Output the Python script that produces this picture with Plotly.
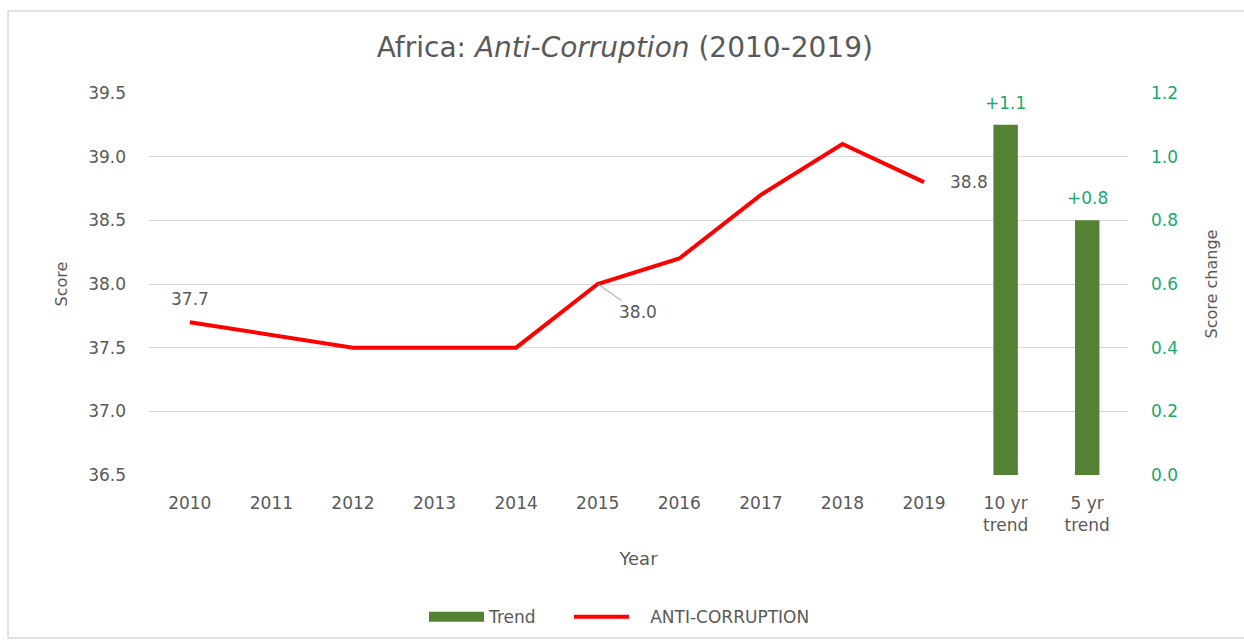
import plotly.graph_objects as go

# Anti-corruption scores for Africa, 2010-2019
years = ["2010", "2011", "2012", "2013", "2014", "2015", "2016", "2017", "2018", "2019"]
scores = [37.7, 37.6, 37.5, 37.5, 37.5, 38.0, 38.2, 38.7, 39.1, 38.8]

# Score change over the last 10 and 5 years
trend_labels = ["10 yr<br>trend", "5 yr<br>trend"]
trend_values = [1.1, 0.8]

# Points on the line that carry a value label
labelled_years = ["2010", "2015", "2019"]

categories = years + trend_labels
left_ticks = [36.5, 37.0, 37.5, 38.0, 38.5, 39.0, 39.5]
right_ticks = [0.0, 0.2, 0.4, 0.6, 0.8, 1.0, 1.2]

FONT = "DejaVu Sans, sans-serif"
GREY = "#595959"
GREEN_TEXT = "#22a86a"
BAR_GREEN = "#548235"
LINE_RED = "#ff0000"

fig = go.Figure()

fig.add_trace(go.Bar(
    x=trend_labels, y=trend_values, name="Trend", yaxis="y2",
    marker=dict(color=BAR_GREEN, line=dict(width=0)),
    showlegend=False,
))

# legend entry for the bars, drawn as a wide swatch
fig.add_trace(go.Scatter(
    x=[None], y=[None], name="Trend", mode="lines", yaxis="y2",
    line=dict(color=BAR_GREEN, width=10), legend="legend",
))

fig.add_trace(go.Scatter(
    x=years, y=scores, name="&nbsp;&nbsp;&nbsp;ANTI-CORRUPTION", mode="lines",
    line=dict(color=LINE_RED, width=4), legend="legend2",
))

# value labels above the trend bars
for lbl, val in zip(trend_labels, trend_values):
    fig.add_annotation(
        x=categories.index(lbl), y=val, xref="x", yref="y2",
        text=f"{val:+.1f}", showarrow=False, yanchor="bottom", yshift=10,
        font=dict(color=GREEN_TEXT, size=17, family=FONT),
    )

# value labels on the line
lookup = dict(zip(years, scores))
label_style = {
    "2010": dict(xshift=0, yshift=23, showarrow=False),
    "2015": dict(showarrow=True, ax=40, ay=28),
    "2019": dict(xshift=45, yshift=0, showarrow=False),
}
for yr in labelled_years:
    fig.add_annotation(
        x=categories.index(yr), y=lookup[yr], xref="x", yref="y",
        text=f"{lookup[yr]:.1f}",
        font=dict(color=GREY, size=17, family=FONT),
        arrowcolor="#8c9bb0", arrowwidth=1, arrowhead=0, standoff=0,
        **label_style[yr],
    )

# outer chart border
fig.add_shape(type="rect", xref="paper", yref="paper",
              x0=-0.144, x1=1.2, y0=-0.4267, y1=1.2147,
              line=dict(color="#d9d9d9", width=1.5), fillcolor="rgba(0,0,0,0)", layer="below")

legend_common = dict(orientation="h", xanchor="left", y=-0.372, yanchor="middle",
                     font=dict(size=17, color=GREY), itemwidth=55,
                     bgcolor="rgba(0,0,0,0)")

fig.update_layout(
    width=1244, height=641,
    margin=dict(l=149, r=116, t=93, b=166, autoexpand=False),
    paper_bgcolor="white", plot_bgcolor="white",
    font=dict(family=FONT, color=GREY, size=16),
    title=dict(text="Africa: <i>Anti-Corruption</i> (2010-2019)",
               x=0.486, xref="paper", xanchor="center",
               y=1 - 47 / 641, yref="container", yanchor="middle",
               font=dict(size=28, color=GREY, family=FONT)),
    xaxis=dict(type="category", categoryorder="array", categoryarray=categories,
               range=[-0.5, len(categories) - 0.5], automargin=False,
               showgrid=False, showline=False, ticks="", zeroline=False,
               ticklabelstandoff=16,
               tickfont=dict(size=17, color=GREY),
               title=dict(text="Year", font=dict(size=18, color=GREY), standoff=18)),
    yaxis=dict(range=[36.5, 39.5], tickvals=left_ticks, ticktext=[f"{v:.1f}" for v in left_ticks],
               showgrid=True, gridcolor="#d9d9d9", gridwidth=1, zeroline=False,
               showline=False, ticks="", ticklabelstandoff=22, automargin=False,
               tickfont=dict(size=17, color=GREY),
               title=dict(text="Score", font=dict(size=16, color=GREY), standoff=16)),
    yaxis2=dict(range=[0, 1.2], tickvals=right_ticks, ticktext=[f"{v:.1f}" for v in right_ticks],
                overlaying="y", side="right", showgrid=False, zeroline=False,
                showline=False, ticks="", ticklabelstandoff=22, automargin=False,
                tickfont=dict(size=17, color=GREEN_TEXT),
                title=dict(text="Score change", font=dict(size=16, color=GREY), standoff=28)),
    bargap=0.7,
    showlegend=True,
    legend=dict(x=(424 - 149) / 979, **legend_common),
    legend2=dict(x=(569 - 149) / 979, **legend_common),
)

fig.write_html("out.html")
